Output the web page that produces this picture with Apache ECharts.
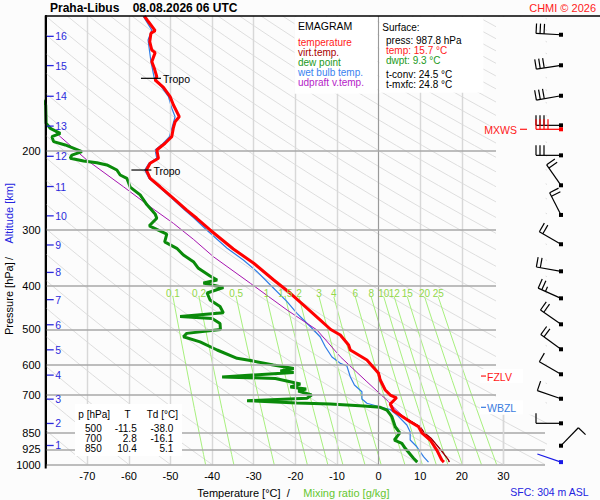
<!DOCTYPE html>
<html>
<head>
<meta charset="utf-8">
<title>Emagram Praha-Libus</title>
<script src="https://cdn.jsdelivr.net/npm/echarts/dist/echarts.min.js"></script>
<style>
html,body{margin:0;padding:0;background:#fcfcfc;}
#chart{width:600px;height:500px;}
</style>
</head>
<body>
<div id="chart"></div>
<script>
// ---------------- data ----------------
const stationTitle = 'Praha-Libus    08.08.2026 06 UTC';
const copyrightText = 'CHMI \u00a9 2026';
const pressureLevels = [100, 200, 300, 400, 500, 600, 700, 850, 925, 1000];
const tempTicks = [-70, -60, -50, -40, -30, -20, -10, 0, 10, 20, 30];
const mixRatios = [0.1, 0.2, 0.5, 1, 1.5, 2, 3, 4, 6, 8, 10, 12, 15, 20, 25];

// temperature
const tempP = [100,103.0,107.8,109.3,114.1,119.1,120.7,126.4,130.8,136.6,138.9,144.2,151.3,157.9,167.7,172.1,177.3,185.8,192.2,199.0,207.6,213.0,220.5,230.1,240.3,255.0,270.8,282.5,300.0,330.7,355.9,387.8,415.2,454.8,476.3,500,514.4,541.5,555.5,584.8,626.1,648.0,682.1,700,710,733,759,802.8,823.8,850,881.9,928.5,977,987.8];
const tempT = [-56.3,-55.3,-53.7,-54.7,-55.0,-54.5,-53.7,-54.5,-53.9,-53.3,-53.7,-51.7,-50.1,-49.3,-47.9,-48.9,-49.3,-49.7,-51.3,-53.3,-52.9,-54.9,-55.8,-54.9,-52.5,-49.3,-46.1,-43.7,-40.5,-34.9,-30.0,-25.2,-21.2,-16.4,-14.0,-11.5,-9.2,-7.2,-6.8,-2.8,0.0,0.4,1.6,2.8,4.3,2.8,3.6,7.6,9.6,10.4,12.4,14.0,15.2,15.7];

// virtual temperature (lower part, elsewhere hidden under temperature)
const virtP = [584.8,626.1,648.0,682.1,700,710,733,759,782.5,802.8,823.8,850,874,905,944,977,987.8];
const virtT = [-2.7,0.1,0.5,1.7,2.9,4.4,2.9,3.8,6.0,8.0,10.0,11.0,12.6,14.0,15.6,16.8,17.0];

// dew point
const dewP = [152,157.9,173.5,178.0,182.6,185.8,190.6,193.9,200.7,204.2,207.6,210.6,212.4,214.8,220.5,226.2,230.1,240.7,250.6,263.3,276.2,282.5,293.6,306.3,319.0,329.6,341.2,353.0,365.2,380.0,387.8,393.8,403.0,414.6,429.7,444.3,459.1,467.6,472.5,484.9,500,510.1,519.1,532.7,555.5,579.8,586.4,600.1,610.9,618.8,623.7,638.0,643.0,661.4,671.7,678.6,685.7,700,711.8,720.6,729.2,733.0,740.6,745.6,756.0,782.5,823.8,850,881.9,896.9,920.3,968.7,987.8];
const dewT = [-81,-80.0,-79.9,-78.9,-76.5,-78.5,-78.1,-75.3,-71.3,-73.7,-74.1,-70.9,-67.7,-65.3,-62.9,-62.1,-60.5,-59.7,-57.3,-55.7,-53.7,-53.3,-55.1,-50.9,-51.4,-48.5,-46.9,-44.5,-43.3,-40.5,-38.8,-42.1,-37.3,-41.2,-40.5,-38.1,-37.3,-47.7,-40.0,-38.1,-38.0,-46.1,-46.9,-42.9,-38.8,-34.0,-30.8,-25.3,-20.4,-23.6,-20.4,-37.6,-24.8,-18.8,-21.2,-17.4,-19.3,-16.1,-17.2,-31.6,-19.6,-11.6,-3.6,0.4,2.0,3.2,4.0,5.1,3.8,5.6,6.4,8.4,9.3];

// wet bulb temperature
const wbP = [100,107.5,113.1,126.4,137.7,144.2,151.3,160.6,167.7,178.0,186.1,192.4,199.0,207.6,213.0,220.5,230.1,240.3,255.0,270.8,282.5,300.0,329.6,349.9,371.6,398.0,433.5,460.2,476.3,496.9,519.6,546.3,575.9,594.9,603.3,637.2,664.9,688.2,714.5,730.2,742.5,754.1,779.8,816.6,846.3,881.9,912.9,960.7,987.8];
const wbT = [-56.6,-54.5,-55.4,-54.7,-53.9,-52.1,-50.5,-49.7,-48.9,-49.7,-50.3,-51.8,-53.7,-53.3,-55.2,-56.2,-55.2,-52.8,-49.7,-46.6,-44.3,-41.3,-36.4,-32.5,-29.2,-26.0,-22.0,-19.6,-18.0,-16.0,-14.0,-12.8,-11.2,-9.2,-7.6,-6.8,-5.8,-4.0,-4.0,-2.8,0.0,2.8,4.7,6.8,7.6,7.6,9.2,10.8,12.0];

// updraft virtual temperature (parcel)
const parcelP = [160,172.3,185.8,209.5,240.3,266.2,290.0,314.7,344.1,394.5,452.4,501.3,575.1,651.3,724.4,740.6,782.5,802.8,823.8,850,874,905,944,977,987.8];
const parcelT = [-82,-80.1,-76.5,-70.1,-61.3,-54.9,-49.3,-44.5,-39.7,-30.8,-22.0,-14.8,-9.2,-3.0,2.4,3.3,6.0,8.0,10.0,11.0,12.6,14.0,15.6,16.8,17.0];

// tropopauses
const tropoP = [137.7, 220.5];
const tropoT = [-53.5, -55.8];

// altitude scale [km] -> pressure [hPa]
const altKm = [1,2,3,4,5,6,7,8,9,10,11,12,13,14,15,16];
const altP = [907,810,715,632,555,488,429,373,324,279,240,205.5,176,151,129,111];

// wind profile (top -> surface)
const windP = [110.1,128.8,150.6,175.3,204.5,238.5,277.7,322.8,370.9,426.1,486.9,553.5,629.3,713.5,809.4,908.0,987.8];
const windDir = [273,261,260,270,270,325,333,300,280,294,305,306,300,289,270,44,289];
const windSpd = [30,30,30,30,30,20,20,20,20,25,20,20,10,10,10,10,2];
const mxwsP = 178.9, mxwsDir = 270, mxwsSpd = 40;

// special levels
const levelNames = ['MXWS','FZLV','WBZL'];
const levelP = [178.9, 635, 745.6];

// surface & table
const sfcPress = 987.8, sfcTemp = 15.7, sfcDwpt = 9.3, tConv = 24.5, tMxfc = 24.8, sfcHeight = 304;
const tableP = [500, 700, 850];
const tableT = [-11.5, 2.8, 10.4];
const tableTd = [-38.0, -16.1, 5.1];

// ---------------- helpers ----------------
const FONT = '"Liberation Sans", Arial, Helvetica, sans-serif';
const BG = '#fcfcfc';
function pairs(T, P) { return T.map((t, i) => [t, P[i]]); }
function dewFromMix(w, p) { const e = w * p / (622 + w); const l = Math.log(e / 6.112); return 243.5 * l / (17.67 - l); }
const KAPPA = 0.286;
const dryThetas = []; for (let t = -80; t <= 340; t += 10) dryThetas.push(t);
const dryLines = dryThetas.map(th => {
  const c = [];
  for (let i = 0; i <= 45; i++) { const p = 100 * Math.pow(10, i / 45); c.push([(th + 273.15) * Math.pow(p / 1000, KAPPA) - 273.15, p]); }
  return { coords: c };
});
const mixPs = [423, 450, 500, 550, 600, 650, 700, 750, 800, 850, 900, 950, 1000];
const mixLines = mixRatios.map(w => ({ coords: mixPs.map(p => [dewFromMix(w, p), p]) }));

function T(x, y, text, color, size, align, extra) {
  return Object.assign({ type: 'text', x: x, y: y, z: 21, silent: true,
    style: { text: text, fill: color, fontSize: size, lineHeight: Math.min(size, 10), fontFamily: FONT, align: align || 'left', verticalAlign: 'middle',
             textAlign: align || 'left', textVerticalAlign: 'middle' } }, extra || {});
}

function barb(x0, y0, dirDeg, spd, col) {
  const d = dirDeg * Math.PI / 180;
  const sx = Math.sin(d), sy = -Math.cos(d);
  const fx = Math.cos(d), fy = Math.sin(d);
  const L = 25, FL = 10, SP = 4;
  const ex = x0 + sx * L, ey = y0 + sy * L;
  const st = { stroke: col, lineWidth: 1.2 };
  const ch = [{ type: 'line', shape: { x1: x0, y1: y0, x2: ex, y2: ey }, style: st }];
  let rem = Math.round(spd / 5) * 5, k = 0;
  while (rem >= 10) {
    const bx = ex - sx * SP * k, by = ey - sy * SP * k;
    ch.push({ type: 'line', shape: { x1: bx, y1: by, x2: bx + fx * FL, y2: by + fy * FL }, style: st });
    rem -= 10; k++;
  }
  if (rem >= 5) {
    if (k === 0) k = 1;
    const bx = ex - sx * SP * k, by = ey - sy * SP * k;
    ch.push({ type: 'line', shape: { x1: bx, y1: by, x2: bx + fx * FL / 2, y2: by + fy * FL / 2 }, style: st });
  }
  ch.push({ type: 'rect', shape: { x: x0 - 2, y: y0 - 2, width: 4, height: 4 }, style: { fill: col } });
  return ch;
}

// ---------------- chart ----------------
const chart = echarts.init(document.getElementById('chart'), null, { renderer: 'svg', width: 600, height: 500 });

const lineBase = { type: 'line', showSymbol: false, symbol: 'none', silent: true, clip: true, animation: false };

const option = {
  backgroundColor: BG,
  animation: false,
  textStyle: { fontFamily: FONT },
  grid: { left: 45.7, right: 55, top: 16, bottom: 35.5 },
  xAxis: {
    type: 'value', min: -80, max: 40, interval: 10,
    axisLine: { show: false, onZero: false }, axisTick: { show: false }, splitLine: { show: false },
    axisLabel: { fontSize: 11, color: '#000', margin: 6, fontFamily: FONT,
      formatter: v => (v > -80 && v < 40) ? String(v) : '' }
  },
  yAxis: {
    type: 'log', logBase: 10, min: 100, max: 1000, inverse: true,
    axisLine: { show: true, onZero: false, lineStyle: { color: '#000', width: 2 } },
    axisTick: { show: false }, axisLabel: { show: false }, splitLine: { show: false }
  },
  series: [
    // dry adiabats
    { type: 'lines', coordinateSystem: 'cartesian2d', polyline: true, silent: true, clip: true, z: 1,
      lineStyle: { color: '#dedede', width: 1, opacity: 1 }, data: dryLines },
    // isotherms
    Object.assign({}, lineBase, { data: [], z: 1,
      markLine: { silent: true, symbol: ['none', 'none'], animation: false, label: { show: false },
        data: tempTicks.map(t => ({ xAxis: t, lineStyle: { type: 'solid', color: t === 0 ? '#9a9a9a' : '#d8d8d8', width: t === 0 ? 1.2 : 1.4 } })) } }),
    // mixing ratio lines
    { type: 'lines', coordinateSystem: 'cartesian2d', polyline: true, silent: true, clip: true, z: 1,
      lineStyle: { color: '#a8f07e', width: 1, opacity: 1 }, data: mixLines },
    // pressure levels
    Object.assign({}, lineBase, { data: [], z: 2,
      markLine: { silent: true, symbol: ['none', 'none'], animation: false,
        label: { show: true, position: 'start', formatter: '{b}', color: '#000', fontSize: 11, distance: 5, fontFamily: FONT },
        data: pressureLevels.map(p => ({ yAxis: p, name: String(p), lineStyle: { type: 'solid', color: '#a8a8a8', width: 1.5, opacity: p === 100 ? 0 : 1 } })) } }),
    // mixing ratio labels
    { type: 'custom', silent: true, z: 6, encode: { x: 0, y: 1 },
      data: mixRatios.map(w => [dewFromMix(w, 423), 416, w]),
      renderItem: (params, api) => {
        const pt = api.coord([api.value(0), api.value(1)]);
        return { type: 'text', x: pt[0], y: pt[1], style: { text: String(api.value(2)), fill: '#92d84a', fontSize: 10, lineHeight: 10, fontFamily: FONT,
          align: 'center', verticalAlign: 'middle', textAlign: 'center', textVerticalAlign: 'middle' } };
      } },
    // profiles
    Object.assign({}, lineBase, { name: 'wet bulb temp.', z: 3, data: pairs(wbT, wbP), lineStyle: { color: '#2f7de6', width: 1.2 } }),
    Object.assign({}, lineBase, { name: 'udpraft v.temp.', z: 3, data: pairs(parcelT, parcelP), lineStyle: { color: '#a614b0', width: 1 } }),
    Object.assign({}, lineBase, { name: 'virt.temp.', z: 4, data: pairs(virtT, virtP), lineStyle: { color: '#990000', width: 1.3 } }),
    Object.assign({}, lineBase, { name: 'dew point', z: 4, data: pairs(dewT, dewP), lineStyle: { color: '#0a8a0a', width: 3 } }),
    Object.assign({}, lineBase, { name: 'temperature', z: 5, data: pairs(tempT, tempP), lineStyle: { color: '#ff0000', width: 3 } }),
    // tropopause markers
    { type: 'custom', silent: true, z: 6, encode: { x: 0, y: 1 },
      data: pairs(tropoT, tropoP),
      renderItem: (params, api) => {
        const pt = api.coord([api.value(0), api.value(1)]);
        return { type: 'group', children: [
          { type: 'line', shape: { x1: pt[0] - 15, y1: pt[1], x2: pt[0] + 5, y2: pt[1] }, style: { stroke: '#000', lineWidth: 1.2 } },
          { type: 'text', x: pt[0] + 7, y: pt[1] + 1, style: { text: 'Tropo', fill: '#000', fontSize: 10.5, lineHeight: 10, fontFamily: FONT,
            align: 'left', verticalAlign: 'middle', textAlign: 'left', textVerticalAlign: 'middle' } } ] };
      } },
    // altitude labels
    { type: 'custom', silent: true, z: 6, encode: { x: 0, y: 1 },
      data: altKm.map((k, i) => [-80, altP[i], k]),
      renderItem: (params, api) => {
        const pt = api.coord([api.value(0), api.value(1)]);
        return { type: 'group', children: [
          { type: 'line', shape: { x1: pt[0] + 1, y1: pt[1], x2: pt[0] + 8, y2: pt[1] }, style: { stroke: '#2b2bdc', lineWidth: 1.3 } },
          { type: 'text', x: pt[0] + 9.5, y: pt[1], style: { text: String(api.value(2)), fill: '#2b2bdc', fontSize: 10.5, lineHeight: 10, fontFamily: FONT,
            align: 'left', verticalAlign: 'middle', textAlign: 'left', textVerticalAlign: 'middle' } } ] };
      } },
    // 30 degC isotherm over barb panel
    Object.assign({}, lineBase, { data: [], z: 21,
      markLine: { silent: true, symbol: ['none', 'none'], animation: false, label: { show: false },
        data: [{ xAxis: tempTicks[tempTicks.length - 1], lineStyle: { type: 'solid', color: '#d8d8d8', width: 1.4 } }] } }),
    // wind barbs
    { type: 'custom', silent: true, z: 22, encode: { x: 0, y: 1 },
      data: windP.map((p, i) => [40, p, windDir[i], windSpd[i], i === windP.length - 1 ? 1 : 0]).concat([[40, mxwsP, mxwsDir, mxwsSpd, 2]]),
      renderItem: (params, api) => {
        const pt = api.coord([api.value(0), api.value(1)]);
        const kind = api.value(4);
        const col = kind === 1 ? '#1a1ae6' : (kind === 2 ? '#ff0000' : '#000');
        return { type: 'group', children: barb(pt[0] + 16, pt[1], api.value(2), api.value(3), col) };
      } },
    // special level labels
    { type: 'custom', silent: true, z: 22, encode: { x: 0, y: 1 },
      data: levelNames.map((n, i) => [40, levelP[i], i]),
      renderItem: (params, api) => {
        const pt = api.coord([api.value(0), api.value(1)]);
        const name = levelNames[api.value(2)];
        const col = name === 'WBZL' ? '#3a7de0' : '#ff1a1a';
        if (name === 'MXWS') {
          return { type: 'group', children: [
            { type: 'text', x: pt[0] - 28, y: pt[1] + 0.5, style: { text: name, fill: col, fontSize: 10.5, lineHeight: 10, fontFamily: FONT,
              align: 'right', verticalAlign: 'middle', textAlign: 'right', textVerticalAlign: 'middle' } },
            { type: 'line', shape: { x1: pt[0] - 25, y1: pt[1], x2: pt[0] - 18, y2: pt[1] }, style: { stroke: col, lineWidth: 1.2 } } ] };
        }
        return { type: 'group', children: [
          { type: 'rect', shape: { x: pt[0] - 65, y: pt[1] - 7, width: 43, height: 14 }, style: { fill: '#ffffff' } },
          { type: 'line', shape: { x1: pt[0] - 64, y1: pt[1], x2: pt[0] - 59, y2: pt[1] }, style: { stroke: col, lineWidth: 1.2 } },
          { type: 'text', x: pt[0] - 58, y: pt[1] + 0.5, style: { text: name, fill: col, fontSize: 10.5, lineHeight: 10, fontFamily: FONT,
            align: 'left', verticalAlign: 'middle', textAlign: 'left', textVerticalAlign: 'middle' } } ] };
      } }
  ],
  graphic: { elements: [
    // barb panel cover
    { type: 'rect', silent: true, z: 20, shape: { x: 496, y: 16.8, width: 49.6, height: 398 }, style: { fill: BG } },
    // legend boxes
    { type: 'rect', silent: true, z: 20, shape: { x: 294.5, y: 16.8, width: 83, height: 77 }, style: { fill: '#ffffff' } },
    { type: 'rect', silent: true, z: 20, shape: { x: 379.4, y: 16.8, width: 104, height: 76 }, style: { fill: '#ffffff' } },
    { type: 'rect', silent: true, z: 20, shape: { x: 75, y: 404, width: 107, height: 52 }, style: { fill: '#ffffff' } },
    // frame: top border and left axis
    { type: 'line', silent: true, z: 21, shape: { x1: 45, y1: 16, x2: 600, y2: 16 }, style: { stroke: '#000', lineWidth: 1.5 } },
    { type: 'line', silent: true, z: 21, shape: { x1: 45.7, y1: 15.5, x2: 45.7, y2: 468.5 }, style: { stroke: '#000', lineWidth: 2 } },
    // titles
    { type: 'text', x: 50, y: 8, z: 21, silent: true, style: { text: stationTitle, fill: '#000', fontSize: 12, fontWeight: 'bold', fontFamily: FONT,
      align: 'left', verticalAlign: 'middle', textAlign: 'left', textVerticalAlign: 'middle' } },
    T(596, 7.5, copyrightText, '#ff1a1a', 11, 'right'),
    // legend
    T(298, 26, 'EMAGRAM', '#000', 10.5),
    T(298, 42, 'temperature', '#ff1a1a', 10),
    T(298, 52, 'virt.temp.', '#a80000', 10),
    T(298, 62, 'dew point', '#229922', 10),
    T(298, 72, 'wet bulb temp.', '#3a82f0', 10),
    T(298, 82, 'udpraft v.temp.', '#b522c8', 10),
    // surface box
    T(382.3, 27.3, 'Surface:', '#000', 10),
    T(386, 40, 'press: ' + sfcPress.toFixed(1) + ' hPa', '#000', 10),
    T(386, 50, 'temp: ' + sfcTemp.toFixed(1) + ' \u00b0C', '#ff1a1a', 10),
    T(386, 60, 'dwpt: ' + sfcDwpt.toFixed(1) + ' \u00b0C', '#229922', 10),
    T(386, 74, 't-conv: ' + tConv.toFixed(1) + ' \u00b0C', '#000', 10),
    T(386, 84, 't-mxfc: ' + tMxfc.toFixed(1) + ' \u00b0C', '#000', 10),
    // table
    T(78.3, 414, 'p [hPa]', '#000', 10),
    T(127.5, 414, 'T', '#000', 10, 'center'),
    T(146.7, 414, 'Td [\u00b0C]', '#000', 10),
  ].concat(
    tableP.map((p, i) => T(101.7, 428 + i * 10.3, String(p), '#000', 10, 'right')),
    tableT.map((t, i) => T(136.7, 428 + i * 10.3, t.toFixed(1), '#000', 10, 'right')),
    tableTd.map((t, i) => T(173.3, 428 + i * 10.3, t.toFixed(1), '#000', 10, 'right')),
    [
      // axis names
      T(197.3, 493, 'Temperature [\u00b0C]  /', '#000', 11),
      T(303.3, 493, 'Mixing ratio [g/kg]', '#66c730', 11),
      T(588.5, 491.5, 'SFC: ' + sfcHeight + ' m ASL', '#2424e0', 10.5, 'right'),
      T(8.5, 335, 'Pressure [hPa]', '#000', 11, 'left', { rotation: Math.PI / 2 }),
      T(8.5, 260, '/', '#000', 11, 'left', { rotation: Math.PI / 2 }),
      T(8.5, 243.5, 'Altitude [km]', '#2424e0', 11, 'left', { rotation: Math.PI / 2 })
    ]) }
};

chart.setOption(option);
</script>
</body>
</html>
